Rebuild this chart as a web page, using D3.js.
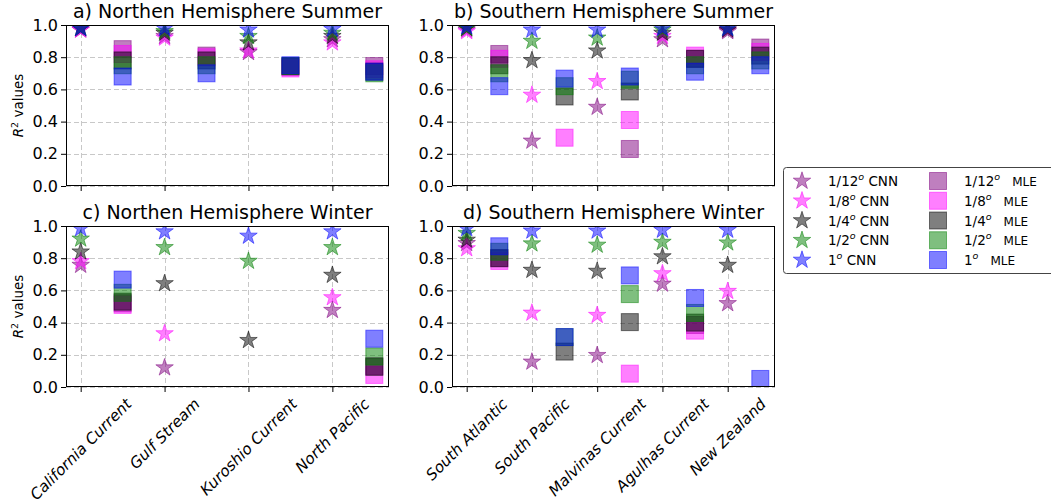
<!DOCTYPE html>
<html><head><meta charset="utf-8">
<script src="https://cdn.jsdelivr.net/npm/d3@7"></script>
<style>
body{margin:0;background:#fff}
svg{display:block;font-family:"DejaVu Sans",sans-serif}
</style>
</head><body>
<svg id="chart" width="1051" height="503"></svg>
<script>
// ---------------- data ----------------
const northCategories = ["California Current", "Gulf Stream", "Kuroshio Current", "North Pacific"];
const southCategories = ["South Atlantic", "South Pacific", "Malvinas Current", "Agulhas Current", "New Zealand"];
const resolutionLabels = ["1/12", "1/8", "1/4", "1/2", "1"];
const yTickValues = [0, 0.2, 0.4, 0.6, 0.8, 1.0];
const panelTitles = ["a) Northen Hemisphere Summer", "b) Southern Hemisphere Summer",
                     "c) Northen Hemisphere Winter", "d) Southern Hemisphere Winter"];

// rows: 1/12, 1/8, 1/4, 1/2, 1 degree ; columns: categories
const northSummerCNN = [
  [0.97, 0.93, 0.83, 0.91],
  [0.97, 0.92, 0.84, 0.89],
  [0.98, 0.95, 0.89, 0.93],
  [0.98, 0.96, 0.93, 0.95],
  [0.98, 0.98, 0.97, 0.975]
];
const northSummerMLE = [
  [0.85, 0.81, 0.74, 0.745],
  [0.82, 0.80, 0.73, 0.725],
  [0.78, 0.78, 0.745, 0.71],
  [0.75, 0.75, 0.745, 0.70],
  [0.68, 0.70, 0.75, 0.71]
];
const southSummerCNN = [
  [0.97, 0.28, 0.49, 0.91, 0.96],
  [0.96, 0.565, 0.65, 0.93, 0.97],
  [0.98, 0.78, 0.84, 0.95, 0.97],
  [0.98, 0.90, 0.92, 0.97, 0.98],
  [0.99, 0.97, 0.97, 0.98, 0.98]
];
const southSummerMLE = [
  [0.82, null, 0.23, 0.79, 0.86],
  [0.79, 0.30, 0.41, 0.81, 0.833],
  [0.75, 0.556, 0.587, 0.79, 0.81],
  [0.70, 0.62, 0.66, 0.75, 0.78],
  [0.62, 0.667, 0.68, 0.71, 0.75]
];
const northWinterCNN = [
  [0.757, 0.12, null, 0.477],
  [0.78, 0.332, null, 0.556],
  [0.84, 0.643, 0.29, 0.695],
  [0.92, 0.867, 0.782, 0.867],
  [0.985, 0.965, 0.938, 0.965]
];
const northWinterMLE = [
  [0.52, null, null, 0.13],
  [0.51, null, null, 0.075],
  [0.53, null, null, 0.125],
  [0.585, null, null, 0.19],
  [0.667, null, null, 0.30]
];
const southWinterCNN = [
  [0.892, 0.156, 0.197, 0.64, 0.519],
  [0.86, 0.46, 0.446, 0.705, 0.595],
  [0.913, 0.726, 0.72, 0.81, 0.757],
  [0.955, 0.89, 0.882, 0.90, 0.896],
  [0.985, 0.97, 0.97, 0.975, 0.975]
];
const southWinterMLE = [
  [0.80, null, null, 0.385, null],
  [0.783, null, 0.083, 0.35, null],
  [0.80, 0.22, 0.403, 0.40, null],
  [0.84, 0.31, 0.577, 0.46, null],
  [0.874, 0.31, 0.693, 0.553, 0.05]
];

// ---------------- styles / layout ----------------
const colors = ["#800080", "#ff00ff", "#000000", "#008000", "#0000ff"];
const panels = [
  {title: panelTitles[0], cats: northCategories, cnn: northSummerCNN, mle: northSummerMLE, left: 66, right: 389, top: 25, bottom: 186, xlab: false, ylab: true},
  {title: panelTitles[1], cats: southCategories, cnn: southSummerCNN, mle: southSummerMLE, left: 452, right: 775, top: 25, bottom: 186, xlab: false, ylab: false},
  {title: panelTitles[2], cats: northCategories, cnn: northWinterCNN, mle: northWinterMLE, left: 66, right: 389, top: 226, bottom: 387, xlab: true, ylab: true},
  {title: panelTitles[3], cats: southCategories, cnn: southWinterCNN, mle: southWinterMLE, left: 452, right: 775, top: 226, bottom: 387, xlab: true, ylab: false}
];
const starSym = d3.symbol().type(d3.symbolStar).size(95);
const sq = 17;

const svg = d3.select("#chart");
const defs = svg.append("defs");

panels.forEach((p, pi) => {
  const n = p.cats.length;
  const m = 0.05 * (n - 0.5);
  const x = d3.scaleLinear().domain([-m, n - 0.5 + m]).range([p.left, p.right]);
  const y = d3.scaleLinear().domain([0, 1]).range([p.bottom, p.top]);
  const g = svg.append("g");

  // grid
  g.append("g").selectAll("line").data(yTickValues).join("line")
    .attr("x1", p.left).attr("x2", p.right)
    .attr("y1", d => Math.round(y(d)) + 0.5).attr("y2", d => Math.round(y(d)) + 0.5)
    .attr("stroke", "#c8c8c8").attr("stroke-dasharray", "5,3").attr("stroke-width", 1);
  g.append("g").selectAll("line").data(d3.range(n)).join("line")
    .attr("x1", d => Math.round(x(d)) + 0.5).attr("x2", d => Math.round(x(d)) + 0.5)
    .attr("y1", p.top).attr("y2", p.bottom)
    .attr("stroke", "#c8c8c8").attr("stroke-dasharray", "5,3").attr("stroke-width", 1);

  // clip
  const cid = "clip" + pi;
  defs.append("clipPath").attr("id", cid).append("rect")
    .attr("x", p.left).attr("y", p.top).attr("width", p.right - p.left).attr("height", p.bottom - p.top);
  const marks = g.append("g").attr("clip-path", `url(#${cid})`);

  resolutionLabels.forEach((r, ri) => {
    const c = colors[ri];
    p.cnn[ri].forEach((v, ci) => {
      if (v == null) return;
      marks.append("path").attr("d", starSym)
        .attr("transform", `translate(${x(ci)},${y(v)})`)
        .attr("fill", c).attr("fill-opacity", 0.5)
        .attr("stroke", c).attr("stroke-opacity", 0.5).attr("stroke-width", 1);
    });
    p.mle[ri].forEach((v, ci) => {
      if (v == null) return;
      marks.append("rect")
        .attr("x", x(ci + 0.5) - sq / 2).attr("y", y(v) - sq / 2)
        .attr("width", sq).attr("height", sq)
        .attr("fill", c).attr("fill-opacity", 0.5)
        .attr("stroke", c).attr("stroke-opacity", 0.5).attr("stroke-width", 1);
    });
  });

  // axes
  const yAxis = d3.axisLeft(y).tickValues(yTickValues).tickFormat(d3.format(".1f")).tickSize(5).tickPadding(3);
  const ya = g.append("g").attr("transform", `translate(${p.left},0)`).call(yAxis);
  ya.select(".domain").remove();
  ya.selectAll("text").attr("font-size", 16).attr("font-family", "DejaVu Sans").attr("fill", "#000");
  ya.selectAll("line").attr("stroke", "#000");

  const xAxis = d3.axisBottom(x).tickValues(d3.range(n)).tickFormat("").tickSize(5);
  const xa = g.append("g").attr("transform", `translate(0,${p.bottom})`).call(xAxis);
  xa.select(".domain").remove();
  xa.selectAll("line").attr("stroke", "#000");

  g.append("rect").attr("x", p.left + 0.5).attr("y", p.top + 0.5)
    .attr("width", p.right - p.left - 1).attr("height", p.bottom - p.top - 1)
    .attr("fill", "none").attr("stroke", "#000").attr("stroke-width", 1);

  // x labels
  if (p.xlab) {
    const fs = 15.3;
    p.cats.forEach((name, ci) => {
      const t = g.append("text").text(name)
        .attr("font-size", fs).attr("font-style", "italic")
        .attr("text-anchor", "middle").attr("dy", "0.346em");
      const L = t.node().getComputedTextLength();
      const h = fs * 1.164;
      const H = (L + h) * Math.SQRT1_2;
      const top = p.bottom + 5 + 3;
      t.attr("transform", `translate(${x(ci)},${top + H / 2}) rotate(-45)`);
    });
  }

  // title
  g.append("text").attr("x", (p.left + p.right) / 2).attr("y", p.top - 7)
    .attr("text-anchor", "middle").attr("font-size", 19).text(p.title);

  // y label
  if (p.ylab) {
    const t = g.append("text").attr("text-anchor", "middle").attr("font-size", 13.5)
      .attr("transform", `translate(23,${(p.top + p.bottom) / 2}) rotate(-90)`);
    t.append("tspan").attr("font-style", "italic").text("R");
    t.append("tspan").attr("font-size", 9.5).attr("dy", -5).text("2");
    t.append("tspan").attr("dy", 5).text("\u00a0values");
  }
});

// ---------------- legend ----------------
const lg = svg.append("g");
lg.append("rect").attr("x", 783.5).attr("y", 167.5).attr("width", 300).attr("height", 106)
  .attr("rx", 3).attr("fill", "#fff").attr("stroke", "#444").attr("stroke-width", 1);
const rowY = d3.scaleLinear().domain([0, 4]).range([181, 260]);
resolutionLabels.forEach((r, ri) => {
  const c = colors[ri];
  const cy = rowY(ri);
  lg.append("path").attr("d", starSym).attr("transform", `translate(802,${cy})`)
    .attr("fill", c).attr("fill-opacity", 0.5).attr("stroke", c).attr("stroke-opacity", 0.5);
  const t1 = lg.append("text").attr("x", 828).attr("y", cy + 5).attr("font-size", 13.5);
  t1.append("tspan").text(r);
  t1.append("tspan").attr("font-size", 9.5).attr("font-style", "italic").attr("dy", -6).text("o");
  t1.append("tspan").attr("dy", 6).text("\u00a0CNN");

  lg.append("rect").attr("x", 938 - sq / 2).attr("y", cy - sq / 2).attr("width", sq).attr("height", sq)
    .attr("fill", c).attr("fill-opacity", 0.5).attr("stroke", c).attr("stroke-opacity", 0.5);
  const t2 = lg.append("text").attr("x", 964).attr("y", cy + 5).attr("font-size", 13.5);
  t2.append("tspan").text(r);
  t2.append("tspan").attr("font-size", 9.5).attr("font-style", "italic").attr("dy", -6).text("o");
  t2.append("tspan").attr("dy", 6).attr("dx", 12).attr("font-size", 12).text("MLE");
});
</script>
</body></html>
